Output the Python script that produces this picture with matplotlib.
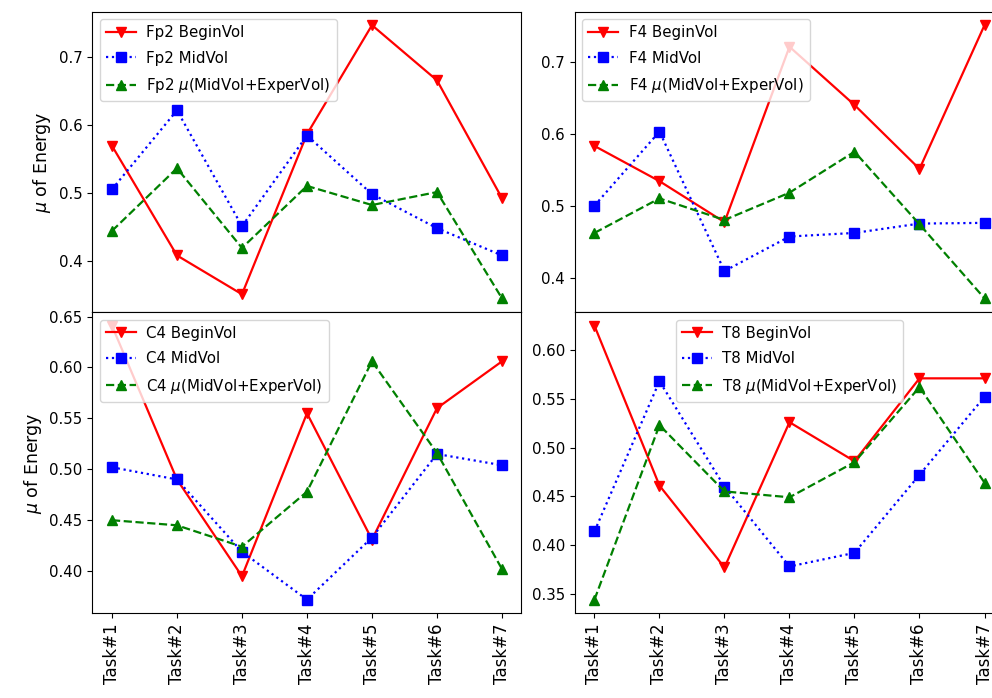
import matplotlib
matplotlib.use('Agg')
import matplotlib.pyplot as plt
from matplotlib.ticker import MultipleLocator

plt.rcParams['font.size'] = 10.8
plt.rcParams['lines.linewidth'] = 1.6

tasks = ['Task#1', 'Task#2', 'Task#3', 'Task#4', 'Task#5', 'Task#6', 'Task#7']

# mean energy per task for each channel
fp2_begin = [0.569, 0.408, 0.351, 0.586, 0.746, 0.665, 0.492]
fp2_mid = [0.505, 0.621, 0.451, 0.584, 0.498, 0.448, 0.408]
fp2_mu = [0.444, 0.536, 0.419, 0.510, 0.482, 0.501, 0.345]

f4_begin = [0.583, 0.534, 0.477, 0.721, 0.640, 0.551, 0.751]
f4_mid = [0.500, 0.603, 0.409, 0.457, 0.462, 0.475, 0.476]
f4_mu = [0.462, 0.510, 0.480, 0.518, 0.575, 0.474, 0.371]

c4_begin = [0.641, 0.490, 0.395, 0.555, 0.431, 0.560, 0.606]
c4_mid = [0.502, 0.490, 0.419, 0.372, 0.433, 0.515, 0.504]
c4_mu = [0.450, 0.445, 0.424, 0.478, 0.606, 0.516, 0.402]

t8_begin = [0.625, 0.461, 0.377, 0.526, 0.486, 0.571, 0.571]
t8_mid = [0.414, 0.568, 0.460, 0.378, 0.392, 0.472, 0.552]
t8_mu = [0.344, 0.523, 0.455, 0.449, 0.485, 0.562, 0.464]

channels = [
    ('Fp2', fp2_begin, fp2_mid, fp2_mu),
    ('F4', f4_begin, f4_mid, f4_mu),
    ('C4', c4_begin, c4_mid, c4_mu),
    ('T8', t8_begin, t8_mid, t8_mu),
]

fig = plt.figure(figsize=(9.92, 6.98), dpi=100)
w = 0.4325
positions = [
    [0.0932, 0.553, w, 0.4305],
    [0.5796, 0.553, w, 0.4305],
    [0.0932, 0.1213, w, 0.4317],
    [0.5796, 0.1213, w, 0.4317],
]

x = list(range(len(tasks)))
for i, (name, begin, mid, mu) in enumerate(channels):
    ax = fig.add_axes(positions[i])
    ax.plot(x, begin, 'r-v', markersize=7.5, label=name + ' BeginVol')
    ax.plot(x, mid, 'b:s', markersize=7.5, label=name + ' MidVol')
    ax.plot(x, mu, 'g--^', markersize=7.5, label=name + r' $\mu$(MidVol+ExperVol)')
    ax.set_xticks(x)
    if i < 2:
        # upper row: no x ticks, coarser y steps
        ax.tick_params(axis='x', bottom=False, labelbottom=False)
        ax.yaxis.set_major_locator(MultipleLocator(0.1))
    else:
        ax.set_xticklabels(tasks, rotation=90, fontsize=12)
    if i % 2 == 0:
        ax.set_ylabel(r'$\mu$ of Energy', fontsize=12.5)
    loc = 'upper center' if name == 'T8' else 'upper left'
    ax.legend(loc=loc, labelspacing=0.7, handletextpad=0.7)

fig.savefig('out.png', dpi=100)
